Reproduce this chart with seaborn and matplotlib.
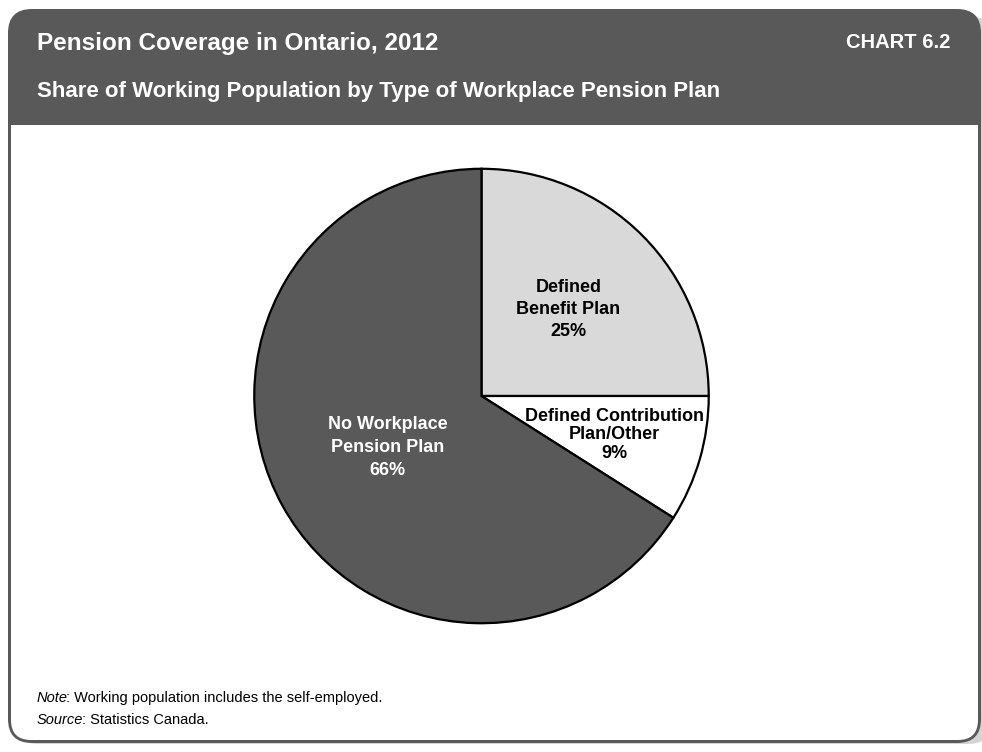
import numpy as np
import matplotlib
matplotlib.use("Agg")
import matplotlib.pyplot as plt
import seaborn as sns
from matplotlib.patches import FancyBboxPatch, Rectangle

# Pension coverage shares, Ontario 2012
categories = ["Defined\nBenefit Plan", "Defined Contribution\nPlan/Other", "No Workplace\nPension Plan"]
shares = [25, 9, 66]
slice_colors = ["#d9d9d9", "#ffffff", "#595959"]
label_colors = ["black", "black", "white"]
label_radius = [0.54, 0.61, 0.47]
label_spacing = [1.4, 1.12, 1.45]

title = "Pension Coverage in Ontario, 2012"
subtitle = "Share of Working Population by Type of Workplace Pension Plan"
chart_no = "CHART 6.2"
note_head, note_body = "Note", ": Working population includes the self-employed."
source_head, source_body = "Source", ": Statistics Canada."

sns.set_theme(style="white")
plt.rcParams["font.family"] = ["Liberation Sans", "DejaVu Sans"]

W, H = 982, 752
fig = plt.figure(figsize=(W / 100, H / 100), dpi=100)
fig.patch.set_facecolor("white")

# Background canvas in pixel units for the framed panel
bg = fig.add_axes([0, 0, 1, 1])
bg.set_xlim(0, W)
bg.set_ylim(H, 0)
bg.axis("off")

dark = "#595959"
# drop shadow
bg.add_patch(FancyBboxPatch((14, 16), 978, 728, boxstyle="round,pad=0,rounding_size=24",
                            fc="#d4d4d4", ec="none", zorder=0))
# panel in header colour
bg.add_patch(FancyBboxPatch((8, 9), 973, 734, boxstyle="round,pad=0,rounding_size=24",
                            fc=dark, ec="none", zorder=1))
# white body with rounded bottom corners
bg.add_patch(FancyBboxPatch((11, 125), 967, 615, boxstyle="round,pad=0,rounding_size=20",
                            fc="white", ec="none", zorder=2))
bg.add_patch(Rectangle((11, 125), 967, 40, fc="white", ec="none", zorder=2))

bg.text(37, 50, title, color="white", fontsize=17.5, fontweight="bold", va="baseline", ha="left", zorder=3)
bg.text(37, 97, subtitle, color="white", fontsize=16, fontweight="bold", va="baseline", ha="left", zorder=3)
bg.text(950, 48, chart_no, color="white", fontsize=14.5, fontweight="bold", va="baseline", ha="right", zorder=3)

renderer = fig.canvas.get_renderer()


def run_in(x, y, head, body):
    """Italic lead word followed by regular text on the same baseline."""
    h = bg.text(x, y, head, color="black", fontsize=10.5, style="italic", va="baseline", ha="left", zorder=3)
    bb = h.get_window_extent(renderer=renderer)
    x_end = bg.transData.inverted().transform((bb.x1, bb.y0))[0] - 1.5
    bg.text(x_end, y, body, color="black", fontsize=10.5, va="baseline", ha="left", zorder=3)


run_in(37, 702, note_head, note_body)
run_in(37, 724, source_head, source_body)

# Pie
cx, cy, r = 481.5, 396, 229.5
ax = fig.add_axes([(cx - r) / W, 1 - (cy + r) / H, 2 * r / W, 2 * r / H])
wedges, _ = ax.pie(shares, colors=slice_colors, startangle=90, counterclock=False,
                   wedgeprops=dict(edgecolor="black", linewidth=1.6), radius=1)
for w, lab, pct, col, rr, ls in zip(wedges, categories, shares, label_colors, label_radius, label_spacing):
    ang = np.deg2rad((w.theta1 + w.theta2) / 2)
    ax.text(rr * np.cos(ang), rr * np.sin(ang), f"{lab}\n{pct}%", ha="center", va="center",
            color=col, fontsize=13, fontweight="bold", linespacing=ls)
ax.set_xlim(-1.01, 1.01)
ax.set_ylim(-1.01, 1.01)
ax.set_aspect("equal")
ax.axis("off")

fig.savefig("out.png", dpi=100)
